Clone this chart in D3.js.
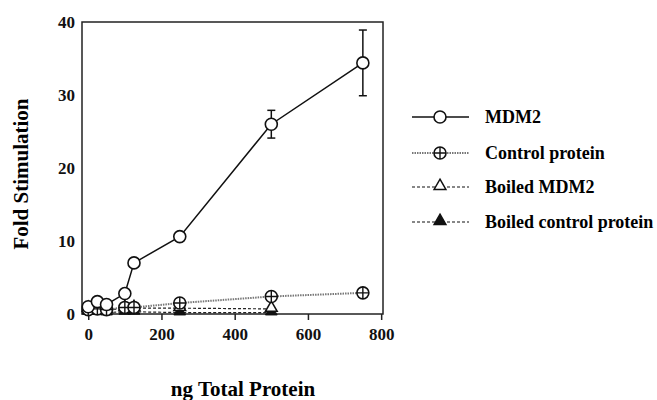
<!DOCTYPE html>
<html>
<head>
<meta charset="utf-8">
<script src="https://cdn.jsdelivr.net/npm/d3@7"></script>
</head>
<body style="margin:0;background:#fff">
<script>
// data
const doses = [0, 25, 50, 100, 125, 250, 500, 750];
const mdm2 = [1.0, 1.7, 1.3, 2.8, 7.0, 10.6, 26.0, 34.4];
const mdm2Err = [0, 0, 0, 0, 0, 0, 1.9, 4.5];
const controlDoses = [0, 25, 50, 100, 125, 250, 500, 750];
const control = [0.6, 0.7, 0.6, 0.9, 0.9, 1.5, 2.4, 2.9];
const boiledDoses = [0, 25, 50, 100, 125, 250, 500];
const boiledMdm2 = [0.7, 0.6, 0.5, 0.8, 0.8, 0.8, 0.7];
const boiledControl = [0.3, 0.3, 0.2, 0.3, 0.3, 0.2, 0.2];
const xTicks = [0, 200, 400, 600, 800];
const yTicks = [0, 10, 20, 30, 40];
const legendNames = ["MDM2", "Control protein", "Boiled MDM2", "Boiled control protein"];

const W = 657, H = 400;
const plot = {left: 82, right: 383, top: 22, bottom: 314};
const serif = "'Liberation Serif'";

const svg = d3.select("body")
  .append("svg")
  .attr("width", W)
  .attr("height", H);

const x = d3.scaleLinear().domain([-17, 805]).range([plot.left, plot.right]);
const y = d3.scaleLinear().domain([0, 40]).range([plot.bottom, plot.top]);

// frame
svg.append("rect")
  .attr("x", plot.left).attr("y", plot.top)
  .attr("width", plot.right - plot.left).attr("height", plot.bottom - plot.top)
  .attr("fill", "none").attr("stroke", "#222").attr("stroke-width", 1.5);

// axes
const xAxis = d3.axisBottom(x).tickValues(xTicks).tickSize(6).tickSizeOuter(0);
const yAxis = d3.axisLeft(y).tickValues(yTicks).tickSize(0).tickPadding(7).tickSizeOuter(0);

const gx = svg.append("g")
  .attr("transform", "translate(0," + plot.bottom + ")")
  .call(xAxis);
gx.select(".domain").remove();
gx.selectAll("line").attr("stroke", "#222").attr("stroke-width", 1.5);
gx.selectAll("text").attr("font-family", serif).attr("font-weight", "bold")
  .attr("font-size", 17).attr("fill", "#111").attr("dy", "1em");

const gy = svg.append("g")
  .attr("transform", "translate(" + plot.left + ",0)")
  .call(yAxis);
gy.select(".domain").remove();
gy.selectAll("text").attr("font-family", serif).attr("font-weight", "bold")
  .attr("font-size", 17).attr("fill", "#111");

// titles
svg.append("text")
  .attr("transform", "translate(28,174) rotate(-90)")
  .attr("text-anchor", "middle")
  .attr("font-family", serif).attr("font-weight", "bold")
  .attr("font-size", 21)
  .text("Fold Stimulation");

svg.append("text")
  .attr("x", 243).attr("y", 396)
  .attr("text-anchor", "middle")
  .attr("font-family", serif).attr("font-weight", "bold")
  .attr("font-size", 21)
  .text("ng Total Protein");

const line = d3.line().x(d => x(d[0])).y(d => y(d[1]));
const tri = d3.symbol().type(d3.symbolTriangle).size(60);

// boiled control protein
const bc = d3.zip(boiledDoses, boiledControl);
svg.append("path").datum(bc).attr("d", line)
  .attr("fill", "none").attr("stroke", "#222").attr("stroke-width", 1.2).attr("stroke-dasharray", "3,2");
svg.selectAll(".bc").data(bc).enter().append("path")
  .attr("transform", d => "translate(" + x(d[0]) + "," + (y(d[1]) - 1) + ")")
  .attr("d", tri).attr("fill", "#111").attr("stroke", "#111");

// boiled MDM2
const bm = d3.zip(boiledDoses, boiledMdm2);
svg.append("path").datum(bm).attr("d", line)
  .attr("fill", "none").attr("stroke", "#222").attr("stroke-width", 1.2).attr("stroke-dasharray", "3,2");
svg.selectAll(".bm").data(bm).enter().append("path")
  .attr("transform", d => "translate(" + x(d[0]) + "," + (y(d[1]) - 1) + ")")
  .attr("d", tri).attr("fill", "#fff").attr("stroke", "#111").attr("stroke-width", 1.5);

// control protein
const cp = d3.zip(controlDoses, control);
svg.append("path").datum(cp).attr("d", line)
  .attr("fill", "none").attr("stroke", "#777").attr("stroke-width", 2).attr("stroke-dasharray", "1.5,1");
const cpg = svg.selectAll(".cp").data(cp).enter().append("g")
  .attr("transform", d => "translate(" + x(d[0]) + "," + y(d[1]) + ")");
cpg.append("circle").attr("r", 6).attr("fill", "#fff").attr("stroke", "#111").attr("stroke-width", 1.6);
cpg.append("path").attr("d", "M-6,0H6M0,-6V6").attr("stroke", "#111").attr("stroke-width", 1.4);

// MDM2 with error bars
const md = d3.zip(doses, mdm2, mdm2Err);
svg.append("path").datum(md).attr("d", line)
  .attr("fill", "none").attr("stroke", "#111").attr("stroke-width", 1.5);
const eb = svg.selectAll(".eb").data(md.filter(d => d[2] > 0)).enter().append("g");
eb.append("line")
  .attr("x1", d => x(d[0])).attr("x2", d => x(d[0]))
  .attr("y1", d => y(d[1] + d[2])).attr("y2", d => y(d[1] - d[2]))
  .attr("stroke", "#111").attr("stroke-width", 1.5);
eb.selectAll("line.cap").data(d => [[d[0], d[1] + d[2]], [d[0], d[1] - d[2]]]).enter().append("line")
  .attr("class", "cap")
  .attr("x1", d => x(d[0]) - 4).attr("x2", d => x(d[0]) + 4)
  .attr("y1", d => y(d[1])).attr("y2", d => y(d[1]))
  .attr("stroke", "#111").attr("stroke-width", 1.5);
svg.selectAll(".md").data(md).enter().append("circle")
  .attr("cx", d => x(d[0])).attr("cy", d => y(d[1]))
  .attr("r", 6).attr("fill", "#fff").attr("stroke", "#111").attr("stroke-width", 1.6);

// legend
const legY = [117, 153, 187, 222];
const leg = svg.selectAll(".leg").data(legendNames).enter().append("g")
  .attr("transform", (d, i) => "translate(0," + legY[i] + ")");
leg.append("line")
  .attr("x1", 412).attr("x2", 469).attr("y1", 0).attr("y2", 0)
  .attr("stroke", (d, i) => i == 1 ? "#777" : "#111")
  .attr("stroke-width", (d, i) => i == 0 ? 1.5 : (i == 1 ? 2 : 1.2))
  .attr("stroke-dasharray", (d, i) => i == 0 ? null : (i == 1 ? "1.5,1" : "3,2"));
leg.append("text")
  .attr("x", 485).attr("y", 0).attr("dy", "0.33em")
  .attr("font-family", serif).attr("font-weight", "bold")
  .attr("font-size", 18)
  .text(d => d);
leg.filter((d, i) => i == 0).append("circle")
  .attr("cx", 440).attr("r", 6).attr("fill", "#fff").attr("stroke", "#111").attr("stroke-width", 1.6);
leg.filter((d, i) => i == 1).append("circle")
  .attr("cx", 440).attr("r", 6).attr("fill", "#fff").attr("stroke", "#111").attr("stroke-width", 1.6);
leg.filter((d, i) => i == 1).append("path")
  .attr("d", "M434,0H446M440,-6V6").attr("stroke", "#111").attr("stroke-width", 1.4);
leg.filter((d, i) => i >= 2).append("path")
  .attr("transform", "translate(440,-1)")
  .attr("d", tri)
  .attr("fill", d => d == "Boiled MDM2" ? "#fff" : "#111")
  .attr("stroke", "#111").attr("stroke-width", 1.5);
</script>
</body>
</html>
